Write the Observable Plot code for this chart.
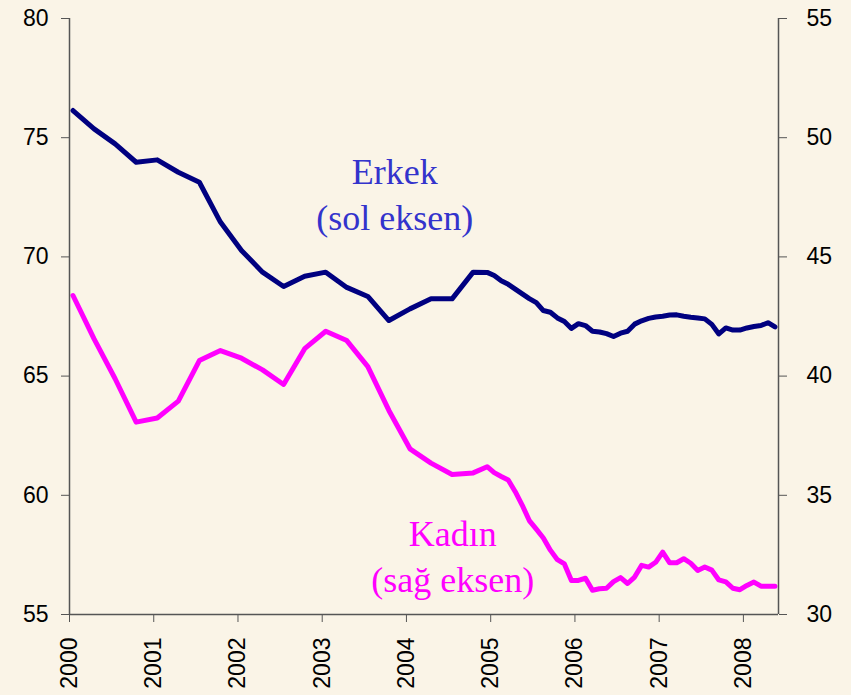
<!DOCTYPE html>
<html>
<head>
<meta charset="utf-8">
<script src="https://cdn.jsdelivr.net/npm/d3@7"></script>
<script src="https://cdn.jsdelivr.net/npm/@observablehq/plot@0.6"></script>
<style>
  html, body { margin: 0; padding: 0; background: #FAF4E7; }
  #chart { width: 851px; height: 695px; }
</style>
</head>
<body>
<div id="chart"></div>
<script>
// Quarterly observations 2000Q1–2004Q4 (months Jan, Apr, Jul, Oct)
const quarterPeriods = [
  "2000-01","2000-04","2000-07","2000-10",
  "2001-01","2001-04","2001-07","2001-10",
  "2002-01","2002-04","2002-07","2002-10",
  "2003-01","2003-04","2003-07","2003-10",
  "2004-01","2004-04","2004-07","2004-10"
];
const erkekQuarterly = [76.14, 75.37, 74.74, 73.97, 74.07, 73.55, 73.13, 71.46, 70.27, 69.36, 68.76, 69.19, 69.36, 68.72, 68.34, 67.33, 67.82, 68.24, 68.24, 69.36];
const kadinQuarterly = [43.38, 41.56, 39.89, 38.07, 38.24, 38.95, 40.65, 41.07, 40.75, 40.26, 39.65, 41.15, 41.88, 41.49, 40.40, 38.56, 36.95, 36.35, 35.87, 35.94];

// Monthly observations Dec 2004 – May 2008
const monthPeriods = [
  "2004-12",
  "2005-01","2005-02","2005-03","2005-04","2005-05","2005-06","2005-07","2005-08","2005-09","2005-10","2005-11","2005-12",
  "2006-01","2006-02","2006-03","2006-04","2006-05","2006-06","2006-07","2006-08","2006-09","2006-10","2006-11","2006-12",
  "2007-01","2007-02","2007-03","2007-04","2007-05","2007-06","2007-07","2007-08","2007-09","2007-10","2007-11","2007-12",
  "2008-01","2008-02","2008-03","2008-04","2008-05"
];
const erkekMonthly = [69.35, 69.22, 69.00, 68.85, 68.65, 68.45, 68.25, 68.08, 67.75, 67.68, 67.44, 67.29, 67.00,
  67.20, 67.12, 66.88, 66.85, 66.78, 66.66, 66.80, 66.88, 67.18, 67.32, 67.42, 67.48,
  67.51, 67.56, 67.57, 67.51, 67.47, 67.44, 67.40, 67.17, 66.77, 67.02, 66.93, 66.93,
  67.02, 67.08, 67.12, 67.24, 67.06];
const kadinMonthly = [36.20, 35.95, 35.79, 35.64, 35.15, 34.58, 33.94, 33.58, 33.21, 32.70, 32.30, 32.12, 31.43,
  31.43, 31.52, 31.02, 31.08, 31.10, 31.38, 31.55, 31.30, 31.57, 32.06, 31.99, 32.19,
  32.62, 32.17, 32.17, 32.34, 32.15, 31.85, 31.99, 31.86, 31.45, 31.37, 31.10, 31.04,
  31.22, 31.36, 31.19, 31.19, 31.19];

const yearTicks = [2000, 2001, 2002, 2003, 2004, 2005, 2006, 2007, 2008];
const leftTicks = [55, 60, 65, 70, 75, 80];
const rightTicks = [30, 35, 40, 45, 50, 55];
const xDomain = [2000, 2008 + 5 / 12];
const leftDomain = [55, 80];
const rightOffset = 25; // right axis value + 25 = left axis value

const labels = [
  {x: 2003.86, y: 72.72, text: "Erkek\n(sol eksen)", color: "#3333CC"},
  {x: 2004.55, y: 57.54, text: "Kadın\n(sağ eksen)", color: "#FF00FF"}
];

// period "YYYY-MM" -> decimal year at mid-month
const toYear = p => { const [y, m] = p.split("-").map(Number); return y + (m - 0.5) / 12; };

const erkek = [
  ...quarterPeriods.map((p, i) => ({t: toYear(p), v: erkekQuarterly[i]})),
  ...monthPeriods.map((p, i) => ({t: toYear(p), v: erkekMonthly[i]}))
];
const kadin = [
  ...quarterPeriods.map((p, i) => ({t: toYear(p), v: kadinQuarterly[i]})),
  ...monthPeriods.map((p, i) => ({t: toYear(p), v: kadinMonthly[i]}))
];

const axisColor = "#555";

const chart = Plot.plot({
  width: 851,
  height: 695,
  marginLeft: 69,
  marginRight: 73,
  marginTop: 18,
  marginBottom: 81,
  style: {background: "#FAF4E7", fontFamily: "'Liberation Sans', Arial, sans-serif", fontSize: "23px", color: "#000"},
  x: {domain: xDomain, label: null},
  y: {domain: leftDomain, label: null},
  marks: [
    Plot.line(kadin, {x: "t", y: d => d.v + rightOffset, stroke: "#FF00FF", strokeWidth: 5, strokeLinejoin: "round", strokeLinecap: "round"}),
    Plot.line(erkek, {x: "t", y: "v", stroke: "#000080", strokeWidth: 5, strokeLinejoin: "round", strokeLinecap: "round"}),
    Plot.text(labels, {x: "x", y: "y", text: "text", fill: "color", fontFamily: "'Liberation Serif', 'Times New Roman', serif", fontSize: 36, lineHeight: 1.3, lineAnchor: "middle", textAnchor: "middle"}),
    Plot.ruleX([xDomain[0]], {stroke: axisColor, strokeWidth: 1.5}),
    Plot.ruleX([xDomain[1]], {stroke: axisColor, strokeWidth: 1.5}),
    Plot.ruleY([leftDomain[0]], {stroke: axisColor, strokeWidth: 1.5}),
    Plot.axisY(leftTicks, {anchor: "left", tickSize: 8, tickPadding: 13, label: null, stroke: axisColor, fill: "#000"}),
    Plot.axisY(rightTicks.map(v => v + rightOffset), {anchor: "right", tickSize: 8, tickPadding: 20, label: null, tickFormat: d => String(d - rightOffset), stroke: axisColor, fill: "#000"}),
    Plot.axisX(yearTicks, {anchor: "bottom", tickSize: 8, tickPadding: 15, tickRotate: -90, tickFormat: d => String(d), label: null, stroke: axisColor, fill: "#000"})
  ]
});
document.getElementById("chart").appendChild(chart);
</script>
</body>
</html>
